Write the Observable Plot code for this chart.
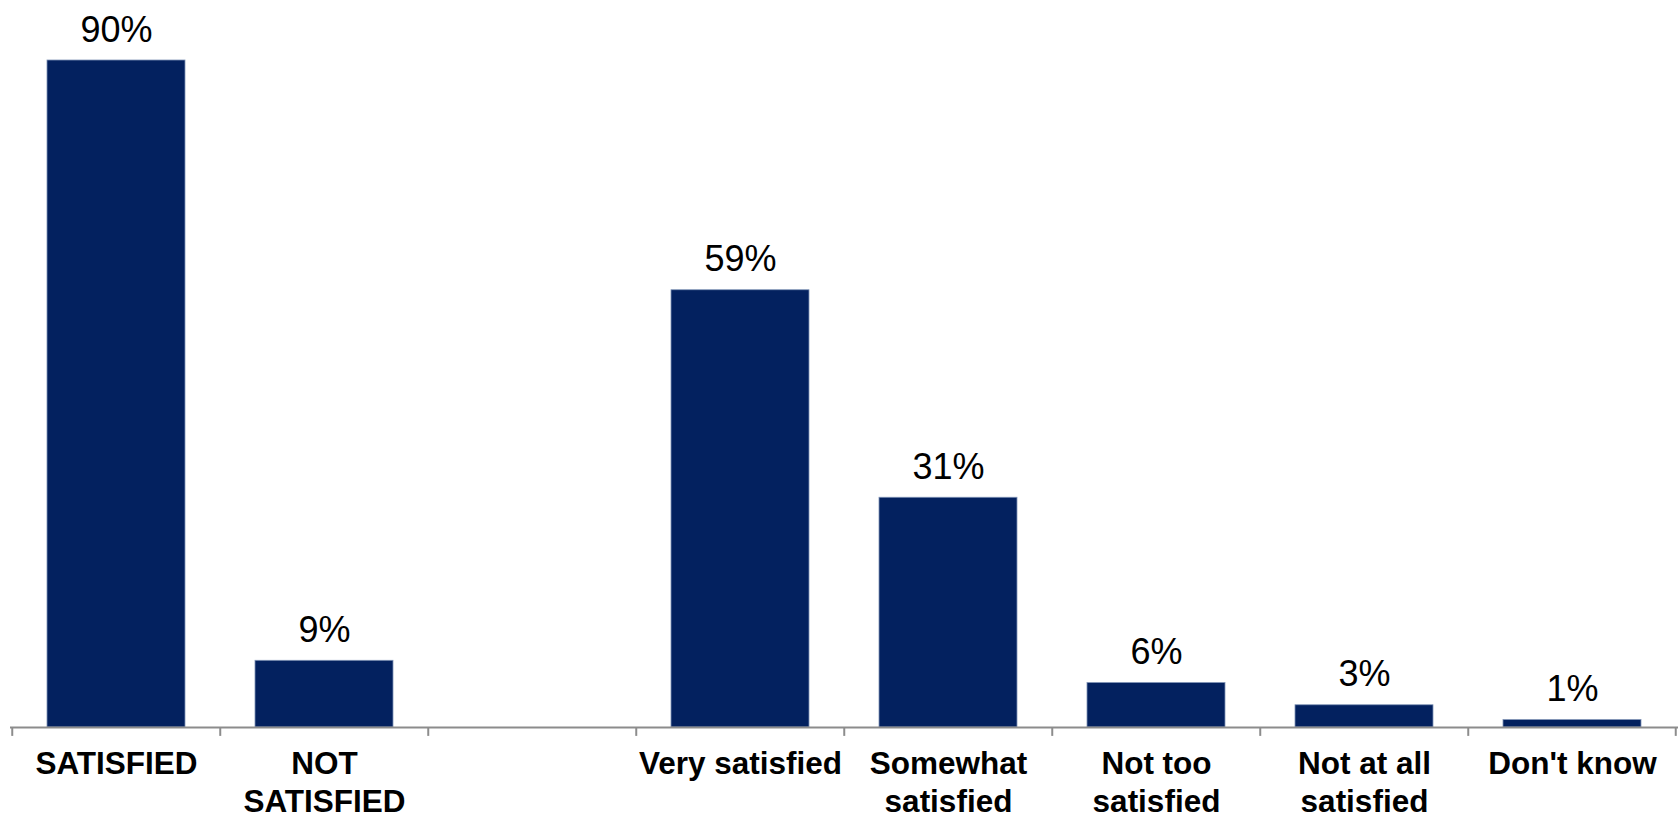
<!DOCTYPE html>
<html>
<head>
<meta charset="utf-8">
<script src="https://cdn.jsdelivr.net/npm/d3@7"></script>
<script src="https://cdn.jsdelivr.net/npm/@observablehq/plot@0.6"></script>
<style>
  html, body { margin: 0; padding: 0; background: #fff; }
  #chart svg { display: block; }
</style>
</head>
<body>
<div id="chart"></div>
<script>
// Data
const categories = ["SATISFIED", "NOT SATISFIED", " ", "Very satisfied", "Somewhat satisfied", "Not too satisfied", "Not at all satisfied", "Don't know"];
const values = [90, 9, null, 59, 31, 6, 3, 1];
const tickLabels = ["SATISFIED", "NOT\nSATISFIED", "", "Very satisfied", "Somewhat\nsatisfied", "Not too\nsatisfied", "Not at all\nsatisfied", "Don't know"];

const data = categories.map((c, i) => ({cat: c, value: values[i], label: tickLabels[i]}));
const bars = data.filter(d => d.value != null);

const W = 1679, H = 816;
const mL = 10, mR = 1;
const step = (W - mL - mR) / categories.length;
const font = "'Liberation Sans', Arial, Helvetica, sans-serif";

const chart = Plot.plot({
  width: W,
  height: H,
  marginLeft: mL,
  marginRight: mR,
  marginTop: 60,
  marginBottom: 89,
  style: {fontFamily: font, background: "#fff", overflow: "visible"},
  x: {domain: categories, padding: 0, axis: null},
  y: {domain: [0, 90], axis: null},
  marks: [
    Plot.barY(bars, {x: "cat", y: "value", fill: "#03215F", stroke: "#7f93b6", strokeWidth: 0.8, insetLeft: 35, insetRight: 35}),
    Plot.ruleY([0], {stroke: "#8c8c8c", strokeWidth: 2}),
    Plot.ruleX(categories, {x: d => d, dx: -step / 2, y1: 0, y2: -1.2, stroke: "#8c8c8c", strokeWidth: 2}),
    Plot.ruleX([categories[categories.length - 1]], {x: d => d, dx: step / 2 - 1, y1: 0, y2: -1.2, stroke: "#8c8c8c", strokeWidth: 2}),
    Plot.text(bars, {x: "cat", y: "value", text: d => d.value + "%", lineAnchor: "bottom", dy: -19, fontSize: 36, fill: "#000"}),
    Plot.text(data, {x: "cat", y: 0, text: "label", lineAnchor: "top", dy: 20, fontSize: 31.5, fontWeight: "bold", lineHeight: 1.2, fill: "#000"})
  ]
});
document.getElementById("chart").appendChild(chart);
</script>
</body>
</html>
